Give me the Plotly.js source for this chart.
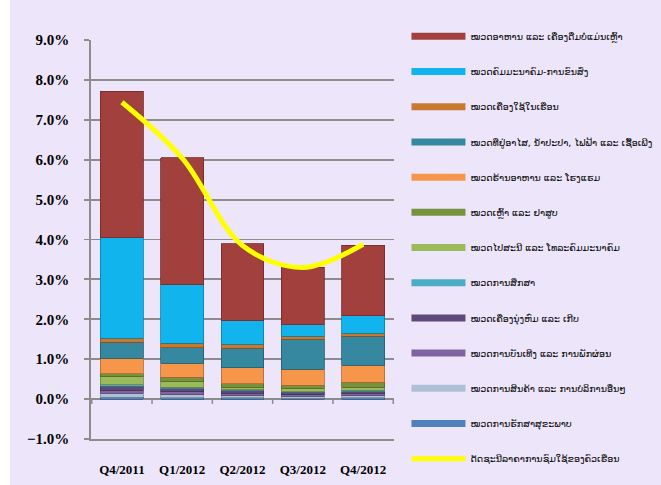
<!DOCTYPE html>
<html><head><meta charset="utf-8">
<script src="https://cdn.plot.ly/plotly-3.0.1.min.js"></script>
<style>html,body{margin:0;padding:0;background:#fff;}#chart{position:absolute;left:10px;top:0;width:651px;height:485px;}</style>
</head><body><div id="chart"></div>
<script>
var quarters = ['Q4/2011','Q1/2012','Q2/2012','Q3/2012','Q4/2012'];
// series listed top of legend -> bottom of legend (top of stack -> bottom of stack)
var names = [
 'ໝວດອາຫານ ແລະ ເຄື່ອງດື່ມບໍ່ແມ່ນເຫຼົ້າ',
 'ໝວດຄົມມະນາຄົມ-ການຂົນສົ່ງ',
 'ໝວດເຄື່ອງໃຊ້ໃນເຮືອນ',
 'ໝວດທີ່ຢູ່ອາໄສ, ນ້ຳປະປາ, ໄຟຟ້າ ແລະ ເຊື້ອເພີງ',
 'ໝວດຮ້ານອາຫານ ແລະ ໂຮງແຮມ',
 'ໝວດເຫຼົ້າ ແລະ ຢາສູບ',
 'ໝວດໄປສະນີ ແລະ ໂທລະຄົມມະນາຄົມ',
 'ໝວດການສຶກສາ',
 'ໝວດເຄື່ອງນຸ່ງຫົ່ມ ແລະ ເກີບ',
 'ໝວດການບັນເທີງ ແລະ ການພັກຜ່ອນ',
 'ໝວດການສິນຄ້າ ແລະ ການບໍລິການອື່ນໆ',
 'ໝວດການຮັກສາສຸຂະພາບ'
];
var lineName = 'ດັດຊະນີລາຄາການຊົມໃຊ້ຂອງຄົວເຮືອນ';
var food        = [3.67, 3.19, 1.93, 1.44, 1.76];
var transport   = [2.53, 1.46, 0.58, 0.28, 0.44];
var household   = [0.10, 0.11, 0.10, 0.08, 0.08];
var housing     = [0.40, 0.39, 0.50, 0.75, 0.72];
var restaurant  = [0.38, 0.35, 0.39, 0.40, 0.43];
var alcohol     = [0.08, 0.12, 0.09, 0.08, 0.12];
var post        = [0.20, 0.13, 0.06, 0.08, 0.08];
var education   = [0.04, 0.04, 0.03, 0.02, 0.04];
var clothing    = [0.10, 0.08, 0.07, 0.05, 0.05];
var recreation  = [0.07, 0.07, 0.05, 0.05, 0.05];
var misc        = [0.10, 0.08, 0.06, 0.05, 0.05];
var health      = [0.05, 0.03, 0.03, 0.02, 0.03];
var cpi         = [7.44, 6.04, 3.85, 3.30, 3.88];

var series = [food, transport, household, housing, restaurant, alcohol, post, education, clothing, recreation, misc, health];
var colors = ['#A2403E','#12B4EE','#C9782F','#35889F','#F5964A','#76923C','#9BBB59','#4BACC6','#5F497A','#8064A2','#AFC0D6','#4F81BD'];
var lineColors = ['#6E2A29','#0A7FA8','#8C5220','#225E6E','#B06A30','#53672A','#6E853F','#33798C','#433356','#5A4672','#7D8A99','#375A84'];

var data = [];
// bars: bottom of stack first
for (var i = series.length - 1; i >= 0; i--) {
  data.push({type:'bar', x: quarters, y: series[i], name: names[i], showlegend:false,
    marker:{color: colors[i], line:{color: lineColors[i], width:0.8}}, hoverinfo:'y+name'});
}
// legend keys
for (var j = 0; j < series.length; j++) {
  data.push({type:'scatter', mode:'lines', x:[null], y:[null], name: names[j], legendgroup:'g'+j,
    line:{color: colors[j], width:7}, hoverinfo:'skip'});
}
data.push({type:'scatter', mode:'lines', x: quarters, y: cpi, name: lineName, legendgroup:'gl',
  line:{color:'#FFFF00', width:5, shape:'spline', smoothing:1}});

var shapes = [];
[ -0.5, 0.5, 1.5, 2.5, 3.5, 4.5].forEach(function(b){
  shapes.push({type:'line', xref:'x', yref:'y', x0:b, x1:b, y0:0, y1:-0.12, line:{color:'#8C8C8C', width:1.5}});
});

var layout = {
  width:651, height:485,
  paper_bgcolor:'#EDE6FA', plot_bgcolor:'#EDE6FA',
  margin:{l:81, r:267, t:39.5, b:45.5},
  barmode:'stack', bargap:0.29,
  showlegend:true,
  xaxis:{type:'category', showgrid:false, zeroline:false, showline:true, linecolor:'#8C8C8C', linewidth:1.8, ticks:'',
    ticklabelstandoff:18,
    tickfont:{family:'Liberation Serif', size:13, color:'#000', weight:'bold'}},
  yaxis:{range:[-1,9], dtick:1, tick0:0, tickformat:'.1f', ticksuffix:'%',
    showgrid:true, gridcolor:'#8C8C8C', gridwidth:1.8, zeroline:false,
    showline:true, linecolor:'#8C8C8C', linewidth:1.8, ticks:'outside', ticklen:5, tickcolor:'#8C8C8C', tickwidth:1.8,
    ticklabelstandoff:12,
    tickfont:{family:'Liberation Serif', size:15, color:'#000', weight:'bold'}},
  legend:{xref:'container', yref:'container', x:0.609, y:0.955, xanchor:'left', yanchor:'top',
    maxheight:480,
    bgcolor:'rgba(0,0,0,0)', itemwidth:54, tracegroupgap:16.2, traceorder:'grouped',
    font:{family:'DejaVu Sans', size:9.5, color:'#000'}},
  shapes: shapes
};
Plotly.newPlot('chart', data, layout, {displayModeBar:false, staticPlot:true});
</script></body></html>
